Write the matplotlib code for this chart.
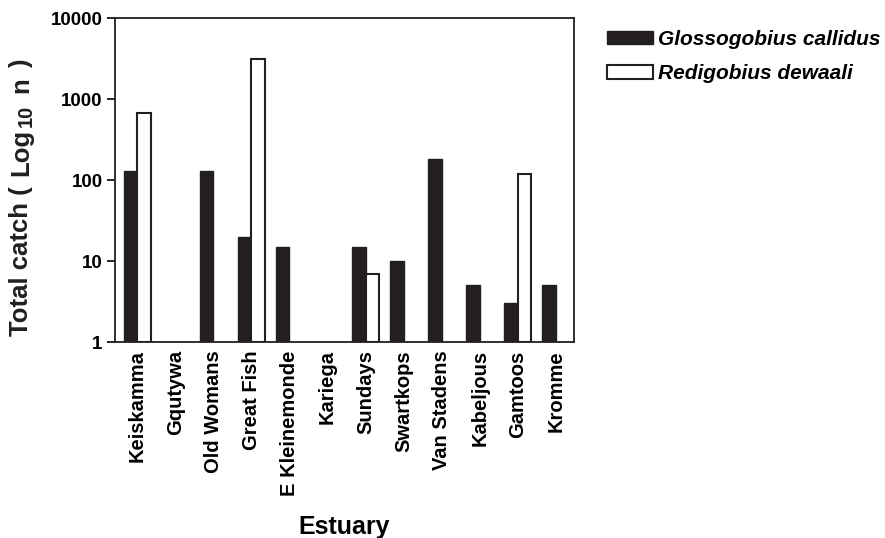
import matplotlib
matplotlib.use("Agg")
import matplotlib.pyplot as plt
import numpy as np

plt.rcParams['font.family'] = ['Liberation Sans', 'DejaVu Sans']
plt.rcParams['font.weight'] = 'bold'

estuaries = ["Keiskamma", "Gqutywa", "Old Womans", "Great Fish", "E Kleinemonde",
             "Kariega", "Sundays", "Swartkops", "Van Stadens", "Kabeljous",
             "Gamtoos", "Kromme"]
glossogobius = [130, 0, 130, 20, 15, 0, 15, 10, 180, 5, 3, 5]
redigobius = [680, 0, 0, 3100, 0, 0, 7, 0, 0, 0, 120, 0]
series_names = ["Glossogobius callidus", "Redigobius dewaali"]
yticks = [1, 10, 100, 1000, 10000]

W, H = 885, 538
fig = plt.figure(figsize=(W / 100, H / 100), dpi=100)
ax = fig.add_axes([0.130, 0.3643, 0.5186, 0.6017])

x = np.arange(len(estuaries))
w = 0.355
g = np.array(glossogobius, dtype=float)
r = np.array(redigobius, dtype=float)
g_h = np.where(g > 0, g - 1, np.nan)
r_h = np.where(r > 0, r - 1, np.nan)

ax.bar(x - w / 2, g_h, width=w, bottom=1, color='#231f20', edgecolor='#231f20',
       linewidth=1.0, label=series_names[0])
ax.bar(x + w / 2, r_h, width=w, bottom=1, color='white', edgecolor='#231f20',
       linewidth=1.5, label=series_names[1])

ax.set_yscale('log')
ax.set_ylim(1, 10000)
ax.set_xlim(-0.586, 11.48)
ax.set_yticks(yticks)
ax.set_yticklabels([str(t) for t in yticks])
ax.yaxis.set_minor_locator(matplotlib.ticker.NullLocator())
ax.set_xticks(x)
ax.set_xticklabels(estuaries, rotation=90)
ax.tick_params(axis='x', length=0, pad=6, labelsize=14.5)
ax.tick_params(axis='y', length=6, width=1.2, labelsize=13.5, pad=3, direction='out')
for s in ax.spines.values():
    s.set_linewidth(1.3)
    s.set_color('#231f20')

ax.set_xlabel("Estuary", fontsize=18, fontweight='bold', labelpad=14)

# y-axis label composed of pieces flowed upward (larger, spaced subscript)
fig.canvas.draw()
renderer = fig.canvas.get_renderer()
ylabel_pieces = [("Total catch (", 18.5, 0, 10),
                 ("Log", 18.5, 0, 2),
                 ("10", 14.5, 4, 12),
                 ("n", 18.5, 0, 9),
                 (")", 18.5, 0, 0)]
base_x = 28
cur = H - 336  # pixel from bottom
for txt, fs, dx, gap in ylabel_pieces:
    t = fig.text((base_x + dx) / W, cur / H, txt, rotation=90, rotation_mode='anchor',
                 ha='left', va='baseline', fontsize=fs, fontweight='bold', color='#231f20')
    bb = t.get_window_extent(renderer)
    cur = bb.y1 + gap

leg = ax.legend(loc='upper left', bbox_to_anchor=(1.04, 1.01), frameon=False,
                prop={'size': 15, 'weight': 'bold', 'style': 'italic'},
                handlelength=2.2, handleheight=0.6, handletextpad=0.25, labelspacing=0.75,
                borderaxespad=0.3)

fig.savefig("out.png", dpi=100)
